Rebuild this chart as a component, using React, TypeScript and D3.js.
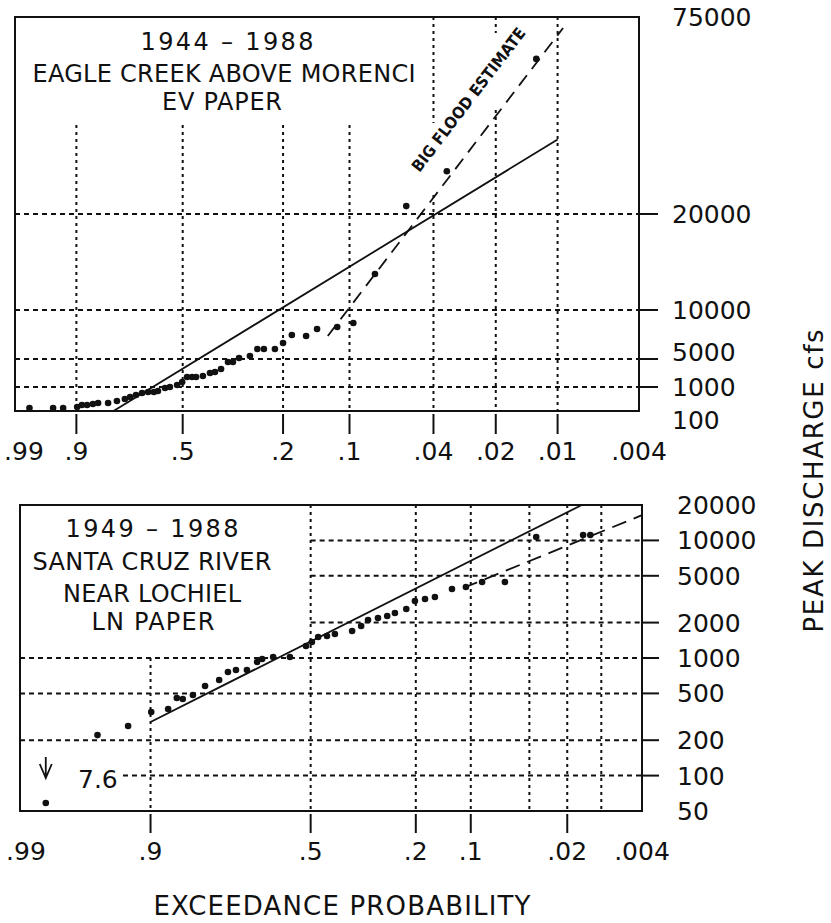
import React, { useEffect } from "react";
import * as d3 from "d3";

// ---- axis ticks ----
const topProbTicks = [0.99, 0.9, 0.5, 0.2, 0.1, 0.04, 0.02, 0.01, 0.004];
const topProbTickMarks = [0.9, 0.5, 0.2, 0.1, 0.04, 0.02, 0.01];
const topQTicks = [100, 1000, 5000, 10000, 20000, 75000];
const topQGrid = [1000, 5000, 10000, 20000];

const bottomProbTicks = [0.99, 0.9, 0.5, 0.2, 0.1, 0.02, 0.004];
const bottomProbTickMarks = [0.9, 0.5, 0.2, 0.1, 0.02];
const bottomProbGrid = [0.9, 0.5, 0.2, 0.1, 0.04, 0.02, 0.01];
const bottomQTicks = [50, 100, 200, 500, 1000, 2000, 5000, 10000, 20000];
const bottomQGrid = [100, 200, 500, 1000, 2000, 5000, 10000];

// ---- Eagle Creek above Morenci, 1944-1988 (EV paper) ----
const eagleProb = [
  0.98, 0.95, 0.931, 0.898, 0.885, 0.87, 0.852, 0.835, 0.8, 0.767, 0.736,
  0.715, 0.691, 0.666, 0.641, 0.617, 0.6, 0.571, 0.551, 0.522, 0.502, 0.483,
  0.464, 0.449, 0.424, 0.399, 0.382, 0.362, 0.34, 0.325, 0.307, 0.277, 0.258,
  0.242, 0.217, 0.2, 0.183, 0.158, 0.141, 0.114, 0.096, 0.076, 0.054, 0.0345,
  0.0127,
];
const eagleQ = [
  210, 210, 210, 250, 325, 325, 360, 400, 400, 475, 550, 625, 700, 775, 810,
  810, 850, 960, 1000, 1290, 1710, 2430, 2430, 2430, 2570, 3000, 3140, 3570,
  4570, 4570, 5100, 5300, 6020, 6020, 6020, 6630, 7450, 7350, 8060, 8270, 8670,
  13750, 22200, 31950, 63300,
];
const eagleFitProb = [0.78, 0.01];
const eagleFitQ = [100, 40800];
const eagleBigProb = [0.126, 0.0094];
const eagleBigQ = [7350, 71950];

// ---- Santa Cruz River near Lochiel, 1949-1988 (LN paper) ----
const santaProb = [
  0.956, 0.928, 0.899, 0.873, 0.858, 0.847, 0.827, 0.801, 0.768, 0.746, 0.725,
  0.695, 0.666, 0.651, 0.618, 0.566, 0.515, 0.496, 0.476, 0.448, 0.423, 0.37,
  0.343, 0.323, 0.295, 0.27, 0.25, 0.222, 0.202, 0.18, 0.16, 0.129, 0.107,
  0.085, 0.06, 0.0355, 0.0146, 0.0126,
];
const santaQ = [
  221, 264, 347, 368, 457, 448, 485, 578, 650, 760, 791, 791, 925, 982, 1020,
  1020, 1265, 1368, 1509, 1538, 1600, 1697, 1871, 2104, 2188, 2276, 2414, 2612,
  3053, 3175, 3302, 3861, 4015, 4426, 4426, 10690, 11116, 11116,
];
const santaLowProb = 0.983;
const santaLowQ = 7.6;
const santaFitProb = [0.9, 0.015];
const santaFitQ = [286, 20000];
const santaDashProb = [0.111, 0.004];
const santaDashQ = [3935, 16400];

// ---- probability paper transforms ----
const gumbel = (p: number) => -Math.log(-Math.log(1 - p));

function normInv(p: number) {
  const a = [-39.69683028665376, 220.9460984245205, -275.9285104469687, 138.357751867269, -30.66479806614716, 2.506628277459239];
  const b = [-54.47609879822406, 161.5858368580409, -155.6989798598866, 66.80131188771972, -13.28068155288572];
  const c = [-0.007784894002430293, -0.3223964580411365, -2.400758277161838, -2.549732539343734, 4.374664141464968, 2.938163982698783];
  const d = [0.007784695709041462, 0.3224671290700398, 2.445134137142996, 3.754408661907416];
  const pl = 0.02425;
  if (p < pl) {
    const q = Math.sqrt(-2 * Math.log(p));
    return (((((c[0] * q + c[1]) * q + c[2]) * q + c[3]) * q + c[4]) * q + c[5]) /
      ((((d[0] * q + d[1]) * q + d[2]) * q + d[3]) * q + 1);
  }
  if (p > 1 - pl) {
    const q = Math.sqrt(-2 * Math.log(1 - p));
    return -(((((c[0] * q + c[1]) * q + c[2]) * q + c[3]) * q + c[4]) * q + c[5]) /
      ((((d[0] * q + d[1]) * q + d[2]) * q + d[3]) * q + 1);
  }
  const q = p - 0.5;
  const r = q * q;
  return ((((((a[0] * r + a[1]) * r + a[2]) * r + a[3]) * r + a[4]) * r + a[5]) * q) /
    (((((b[0] * r + b[1]) * r + b[2]) * r + b[3]) * r + b[4]) * r + 1);
}
const lnVar = (p: number) => normInv(1 - p);

const fmtP = (p: number) => String(p).replace(/^0/, "");

const FONT = "'DejaVu Sans', Verdana, sans-serif";
const INK = "#111";

type Frame = { left: number; right: number; top: number; bottom: number };
const topFrame: Frame = { left: 15, right: 639, top: 17, bottom: 411 };
const botFrame: Frame = { left: 20, right: 642, top: 505, bottom: 811 };

export default function App() {
  useEffect(() => {
    document.body.style.margin = "0";
    document.body.style.overflow = "hidden";
  }, []);

  // scales
  const gx = d3.scaleLinear().domain([gumbel(0.99), gumbel(0.004)]).range([topFrame.left, topFrame.right]);
  const xTop = (p: number) => gx(gumbel(p));
  const yTop = d3
    .scaleLinear()
    .domain(topQTicks)
    .range([topFrame.bottom, 387, 359, 310, 214, topFrame.top]);

  const nx = d3.scaleLinear().domain([lnVar(0.99), lnVar(0.004)]).range([botFrame.left, botFrame.right]);
  const xBot = (p: number) => nx(lnVar(p));
  const yBot = d3.scaleLog().domain([50, 20000]).range([botFrame.bottom, botFrame.top]);

  const topLine = d3.line<[number, number]>().x((d) => xTop(d[0])).y((d) => yTop(d[1]));
  const botLine = d3.line<[number, number]>().x((d) => xBot(d[0])).y((d) => yBot(d[1]));

  // vertical grid extents on the EV panel (left clear for title / annotation)
  const topVGrid: { p: number; segs: [number, number][] }[] = [
    { p: 0.9, segs: [[125, topFrame.bottom]] },
    { p: 0.5, segs: [[125, topFrame.bottom]] },
    { p: 0.2, segs: [[125, topFrame.bottom]] },
    { p: 0.1, segs: [[125, topFrame.bottom]] },
    { p: 0.04, segs: [[topFrame.top, 123], [195, topFrame.bottom]] },
    { p: 0.02, segs: [[topFrame.top, 33], [110, topFrame.bottom]] },
    { p: 0.01, segs: [[topFrame.top, topFrame.bottom]] },
  ];
  const topLabelNudge: Record<number, number> = { 100: 9, 5000: -7 };

  const botHGridStart = (q: number) =>
    q >= 2000 ? xBot(0.5) : q === 100 ? 123 : botFrame.left;
  const botVGridStart = (p: number) => (p === 0.9 ? yBot(1000) : botFrame.top);

  const vDot = "3,4";
  const hDash = "5,4";

  const lowX = xBot(santaLowProb);
  const lowY = yBot(50) - 8;

  return (
    <svg width={831} height={923} style={{ display: "block", background: "#fff" }}>
      <rect x={0} y={0} width={831} height={923} fill="#fff" />

      {/* ================= TOP PANEL (EV paper) ================= */}
      <g>
        {topQGrid.map((q) => (
          <line key={`th${q}`} x1={topFrame.left} x2={topFrame.right} y1={yTop(q)} y2={yTop(q)}
            stroke={INK} strokeWidth={2} strokeDasharray={hDash} />
        ))}
        {topVGrid.map((g) =>
          g.segs.map((s, i) => (
            <line key={`tv${g.p}-${i}`} x1={xTop(g.p)} x2={xTop(g.p)} y1={s[0]} y2={s[1]}
              stroke={INK} strokeWidth={2} strokeDasharray={vDot} />
          ))
        )}
        <rect x={topFrame.left} y={topFrame.top} width={topFrame.right - topFrame.left}
          height={topFrame.bottom - topFrame.top} fill="none" stroke={INK} strokeWidth={2} />

        {/* right ticks and labels */}
        {topQGrid.map((q) => (
          <line key={`trt${q}`} x1={topFrame.right} x2={658} y1={yTop(q)} y2={yTop(q)} stroke={INK} strokeWidth={2} />
        ))}
        {topQTicks.map((q) => (
          <text key={`trl${q}`} x={672} y={yTop(q) + 9 + (topLabelNudge[q] || 0)} fontFamily={FONT}
            fontSize={25} fill={INK}>{q}</text>
        ))}

        {/* bottom ticks and labels */}
        {topProbTickMarks.map((p) => (
          <line key={`tbt${p}`} x1={xTop(p)} x2={xTop(p)} y1={topFrame.bottom + 3} y2={topFrame.bottom + 23}
            stroke={INK} strokeWidth={2} />
        ))}
        {topProbTicks.map((p) => (
          <text key={`tbl${p}`} x={Math.max(xTop(p), 24)} y={topFrame.bottom + 49} textAnchor="middle"
            fontFamily={FONT} fontSize={25} fill={INK}>{fmtP(p)}</text>
        ))}

        {/* fitted lines */}
        <path d={topLine(eagleFitProb.map((p, i) => [p, eagleFitQ[i]]) as [number, number][]) || ""}
          fill="none" stroke={INK} strokeWidth={1.8} />
        <path d={topLine(eagleBigProb.map((p, i) => [p, eagleBigQ[i]]) as [number, number][]) || ""}
          fill="none" stroke={INK} strokeWidth={1.8} strokeDasharray="13,8" />

        {/* observed peaks */}
        {eagleProb.map((p, i) => (
          <circle key={`ed${i}`} cx={xTop(p)} cy={yTop(eagleQ[i])} r={3.3} fill={INK} />
        ))}

        <text transform="translate(473,103) rotate(-52.6)" textAnchor="middle" fontFamily={FONT}
          fontSize={16} fontWeight={600} fill={INK} textLength={176} lengthAdjust="spacingAndGlyphs">BIG FLOOD ESTIMATE</text>

        <g fontFamily={FONT} fontSize={24} fill={INK} textAnchor="middle">
          <text x={227} y={50} textLength={173} lengthAdjust="spacing">1944 – 1988</text>
          <text x={224} y={82} textLength={383} lengthAdjust="spacing">EAGLE CREEK ABOVE MORENCI</text>
          <text x={222} y={110} textLength={120} lengthAdjust="spacing">EV PAPER</text>
        </g>
      </g>

      {/* ================= BOTTOM PANEL (LN paper) ================= */}
      <g>
        {bottomQGrid.map((q) => (
          <line key={`bh${q}`} x1={botHGridStart(q)} x2={botFrame.right} y1={yBot(q)} y2={yBot(q)}
            stroke={INK} strokeWidth={2} strokeDasharray={hDash} />
        ))}
        {bottomProbGrid.map((p) => (
          <line key={`bv${p}`} x1={xBot(p)} x2={xBot(p)} y1={botVGridStart(p)} y2={botFrame.bottom}
            stroke={INK} strokeWidth={2} strokeDasharray={vDot} />
        ))}
        <rect x={botFrame.left} y={botFrame.top} width={botFrame.right - botFrame.left}
          height={botFrame.bottom - botFrame.top} fill="none" stroke={INK} strokeWidth={2} />

        {bottomQGrid.map((q) => (
          <line key={`brt${q}`} x1={botFrame.right} x2={659} y1={yBot(q)} y2={yBot(q)} stroke={INK} strokeWidth={2} />
        ))}
        {bottomQTicks.map((q) => (
          <text key={`brl${q}`} x={677} y={yBot(q) + 9} fontFamily={FONT} fontSize={25} fill={INK}>{q}</text>
        ))}

        {bottomProbTickMarks.map((p) => (
          <line key={`bbt${p}`} x1={xBot(p)} x2={xBot(p)} y1={botFrame.bottom + 3} y2={botFrame.bottom + 22}
            stroke={INK} strokeWidth={2} />
        ))}
        {bottomProbTicks.map((p) => (
          <text key={`bbl${p}`} x={Math.max(xBot(p), 26)} y={botFrame.bottom + 49} textAnchor="middle"
            fontFamily={FONT} fontSize={25} fill={INK}>{fmtP(p)}</text>
        ))}

        <path d={botLine(santaFitProb.map((p, i) => [p, santaFitQ[i]]) as [number, number][]) || ""}
          fill="none" stroke={INK} strokeWidth={1.8} />
        <path d={botLine(santaDashProb.map((p, i) => [p, santaDashQ[i]]) as [number, number][]) || ""}
          fill="none" stroke={INK} strokeWidth={1.8} strokeDasharray="15,8" />

        {santaProb.map((p, i) => (
          <circle key={`sd${i}`} cx={xBot(p)} cy={yBot(santaQ[i])} r={3.3} fill={INK} />
        ))}

        {/* off-scale low flow, marked with an arrow and its value */}
        <circle cx={lowX} cy={lowY} r={3.3} fill={INK} />
        <path d={`M${lowX},${lowY - 46} V${lowY - 25} M${lowX - 6},${lowY - 39} L${lowX},${lowY - 25} L${lowX + 6},${lowY - 39}`}
          fill="none" stroke={INK} strokeWidth={1.8} />
        <text x={78} y={yBot(100) + 12} fontFamily={FONT} fontSize={25} fill={INK}>{santaLowQ}</text>

        <g fontFamily={FONT} fontSize={24} fill={INK} textAnchor="middle">
          <text x={152} y={537} textLength={173} lengthAdjust="spacing">1949 – 1988</text>
          <text x={152} y={570} textLength={239} lengthAdjust="spacing">SANTA CRUZ RIVER</text>
          <text x={152} y={602} textLength={178} lengthAdjust="spacing">NEAR LOCHIEL</text>
          <text x={153} y={630} textLength={123} lengthAdjust="spacing">LN PAPER</text>
        </g>
      </g>

      {/* axis titles */}
      <text transform="translate(823,481) rotate(-90)" textAnchor="middle" fontFamily={FONT} fontSize={26}
        fill={INK} textLength={303} lengthAdjust="spacing">PEAK DISCHARGE cfs</text>
      <text x={342} y={915} textAnchor="middle" fontFamily={FONT} fontSize={26} fill={INK}
        textLength={377} lengthAdjust="spacing">EXCEEDANCE PROBABILITY</text>
    </svg>
  );
}
